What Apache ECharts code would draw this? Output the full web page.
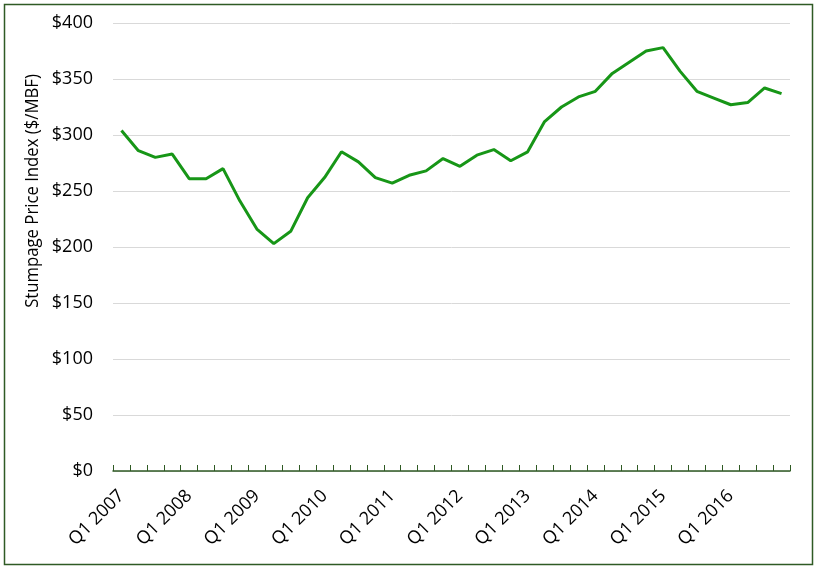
<!DOCTYPE html>
<html><head><meta charset="utf-8">
<script src="https://cdn.jsdelivr.net/npm/echarts@6/dist/echarts.min.js"></script>
<style>html,body{margin:0;padding:0;background:#fff}#c{width:820px;height:573px}</style>
</head><body><div id="c"></div>
<script>
const years = [2007,2008,2009,2010,2011,2012,2013,2014,2015,2016];
const quarters = [];
years.forEach(y => { for (let q = 1; q <= 4; q++) quarters.push('Q' + q + ' ' + y); });
const stumpage = [304,286,280,283,261,261,270,241,216,203,214,244,262,285,276,262,257,264,268,279,272,282,287,277,285,312,325,334,339,355,365,375,378,357,339,333,327,329,342,337];
const yTicks = {min:0, max:400, interval:50};
const yName = 'Stumpage Price Index ($/MBF)';

const chart = echarts.init(document.getElementById('c'), null, {renderer:'canvas'});
const font = "'Open Sans', 'Noto Sans', sans-serif";
chart.setOption({
  animation:false,
  grid:{left:113, right:30, top:23, bottom:102, containLabel:false},
  graphic:[
    {type:'rect', shape:{x:4.5,y:4.5,width:808,height:560}, style:{fill:'none', stroke:'#2f5a24', lineWidth:1.5}, silent:true},
    {type:'text', x:33, y:191, rotation:Math.PI/2, scaleX:0.88, silent:true,
     style:{text:yName, fill:'#000', font:"19px 'Open Sans', 'Noto Sans', sans-serif", align:'center', verticalAlign:'middle'}}
  ],
  xAxis:{
    type:'category', data:quarters, boundaryGap:true,
    axisLine:{lineStyle:{color:'#2f5a24', width:1.5}},
    axisTick:{show:true, inside:true, length:6, interval:0, lineStyle:{color:'#2f5a24'}},
    axisLabel:{interval:3, rotate:45, color:'#000', fontSize:18, fontFamily:font, margin:22},
    splitLine:{show:false}
  },
  yAxis:{
    type:'value', min:yTicks.min, max:yTicks.max, interval:yTicks.interval,
    axisLine:{show:false}, axisTick:{show:false},
    axisLabel:{formatter:v => '$' + v, color:'#000', fontSize:18, fontFamily:font, margin:20},
    splitLine:{lineStyle:{color:'#d9d9d9', width:1}}
  },
  series:[{type:'line', data:stumpage, symbol:'none', lineStyle:{color:'#179617', width:3}, itemStyle:{color:'#179617'}}]
});
</script></body></html>
